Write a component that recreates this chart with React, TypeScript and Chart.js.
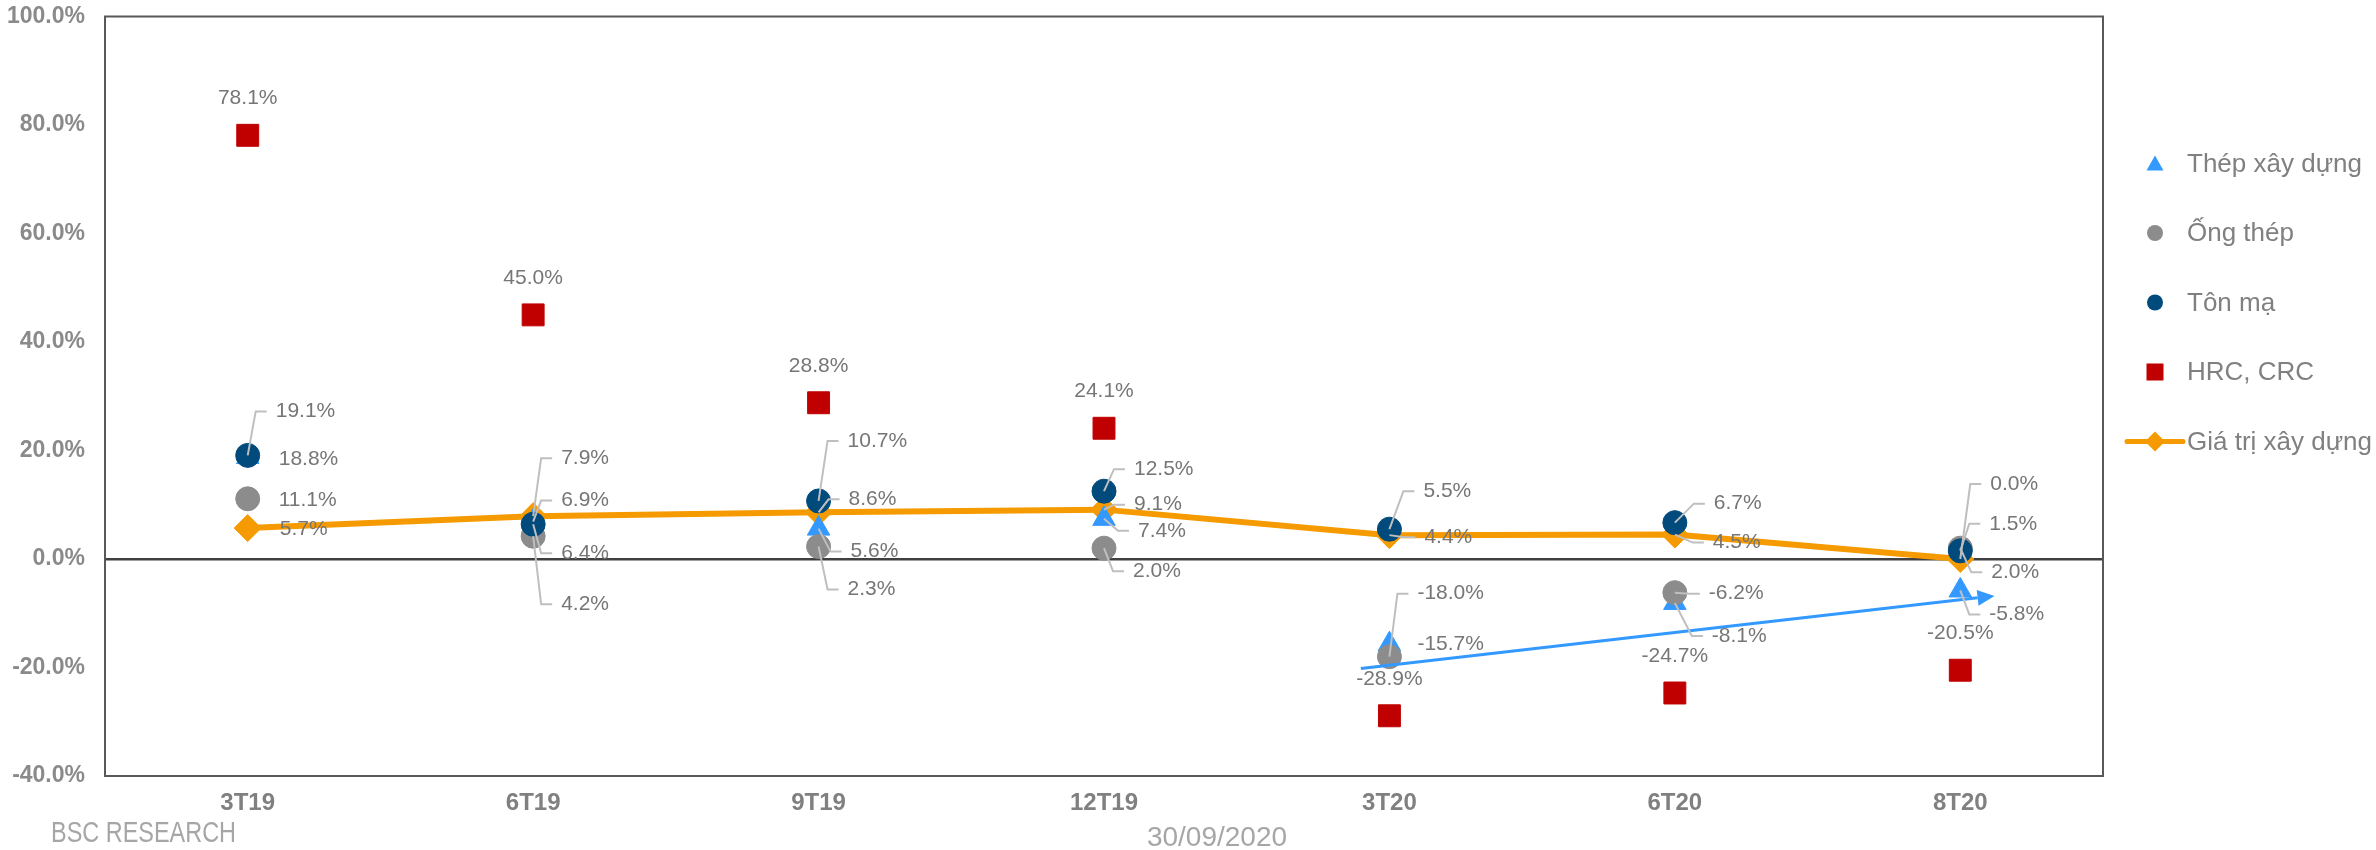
import React, { useEffect, useRef } from 'react';
import { Chart, registerables } from 'chart.js';

Chart.register(...registerables);

// ---------- DATA ----------
const categories = ['3T19', '6T19', '9T19', '12T19', '3T20', '6T20', '8T20'];
const thepXayDung = [18.8, 6.9, 5.6, 7.4, -15.7, -8.1, -5.8];
const ongThep = [11.1, 4.2, 2.3, 2.0, -18.0, -6.2, 2.0];
const tonMa = [19.1, 6.4, 10.7, 12.5, 5.5, 6.7, 1.5];
const hrcCrc = [78.1, 45.0, 28.8, 24.1, -28.9, -24.7, -20.5];
const giaTriXayDung = [5.7, 7.9, 8.6, 9.1, 4.4, 4.5, 0.0];
const yTickValues = [-40, -20, 0, 20, 40, 60, 80, 100];
// trend arrow (category index, value %)
const trendStart = [3.9, -20.2];
const trendEnd = [6.12, -6.8];
const sourceText = 'BSC RESEARCH';
const dateText = '30/09/2020';

// ---------- STYLE ----------
const FONT = "'Liberation Sans', Arial, sans-serif";
const C_BLUE = '#3399ff';
const C_GRAY = '#8c8c8c';
const C_NAVY = '#004a7c';
const C_RED = '#c00000';
const C_ORANGE = '#f59a00';
const C_LABEL = '#767676';
const C_LEADER = '#bfbfbf';

// label layout per series: dx, dy (px from marker), leader flag
const LABEL_LAYOUT: Record<string, { dx: number[]; dy: number[]; leader: number[]; above?: boolean }> = {
  'Thép xây dựng': { dx: [31, 28, 32, 34, 28, 37, 29], dy: [2, -21, 23, 12, 0, 33, 24], leader: [0, 1, 1, 1, 0, 1, 1] },
  'Ống thép': { dx: [31, 28, 29, 29, 28, 34, 31], dy: [1, 68, 43, 23, -63, 1, 24], leader: [0, 1, 1, 1, 1, 1, 1] },
  'Tôn mạ': { dx: [28, 28, 29, 30, 34, 39, 29], dy: [-44, 29, -60, -22, -38, -19, -27], leader: [1, 1, 1, 1, 1, 1, 1] },
  'HRC, CRC': { dx: [0, 0, 0, 0, 0, 0, 0], dy: [-37, -37, -37, -37, -37, -37, -37], leader: [0, 0, 0, 0, 0, 0, 0], above: true },
  'Giá trị xây dựng': { dx: [32, 28, 30, 30, 35, 38, 30], dy: [1, -58, -13, -5, 2, 8, -75], leader: [0, 1, 1, 1, 1, 1, 1] },
};

const LEGEND_ITEMS = [
  { label: 'Thép xây dựng', kind: 'triangle', color: C_BLUE },
  { label: 'Ống thép', kind: 'circle', color: C_GRAY },
  { label: 'Tôn mạ', kind: 'circle', color: C_NAVY },
  { label: 'HRC, CRC', kind: 'rect', color: C_RED },
  { label: 'Giá trị xây dựng', kind: 'line', color: C_ORANGE },
];

const framePlugin = {
  id: 'frame',
  beforeDatasetsDraw(chart: any) {
    const { ctx, chartArea: a } = chart;
    ctx.save();
    ctx.strokeStyle = '#595959';
    ctx.lineWidth = 2;
    ctx.strokeRect(a.left, a.top, a.right - a.left, a.bottom - a.top);
    ctx.restore();
  },
};

const labelPlugin = {
  id: 'labelsAndExtras',
  afterDatasetsDraw(chart: any) {
    const { ctx } = chart;
    const xs = chart.scales.x;
    const ys = chart.scales.y;

    // trend arrow
    const x0 = xs.getPixelForValue(trendStart[0]);
    const y0 = ys.getPixelForValue(trendStart[1]);
    const x1 = xs.getPixelForValue(trendEnd[0]);
    const y1 = ys.getPixelForValue(trendEnd[1]);
    const ang = Math.atan2(y1 - y0, x1 - x0);
    const headLen = 17;
    const headW = 8;
    const bx = x1 - Math.cos(ang) * headLen;
    const by = y1 - Math.sin(ang) * headLen;
    ctx.save();
    ctx.strokeStyle = C_BLUE;
    ctx.fillStyle = C_BLUE;
    ctx.lineWidth = 3;
    ctx.beginPath();
    ctx.moveTo(x0, y0);
    ctx.lineTo(bx, by);
    ctx.stroke();
    ctx.beginPath();
    ctx.moveTo(x1, y1);
    ctx.lineTo(bx + Math.sin(ang) * headW, by - Math.cos(ang) * headW);
    ctx.lineTo(bx - Math.sin(ang) * headW, by + Math.cos(ang) * headW);
    ctx.closePath();
    ctx.fill();
    ctx.restore();

    // leaders
    ctx.save();
    ctx.strokeStyle = C_LEADER;
    ctx.lineWidth = 2;
    chart.data.datasets.forEach((ds: any, di: number) => {
      const lay = LABEL_LAYOUT[ds.label];
      const meta = chart.getDatasetMeta(di);
      meta.data.forEach((pt: any, i: number) => {
        if (!lay.leader[i]) return;
        const tx = pt.x + lay.dx[i];
        const ty = pt.y + lay.dy[i];
        ctx.beginPath();
        ctx.moveTo(pt.x, pt.y);
        ctx.lineTo(tx - 20, ty);
        ctx.lineTo(tx - 9, ty);
        ctx.stroke();
      });
    });
    ctx.restore();

    // labels
    ctx.save();
    ctx.font = `21px ${FONT}`;
    ctx.fillStyle = C_LABEL;
    ctx.textBaseline = 'middle';
    chart.data.datasets.forEach((ds: any, di: number) => {
      const lay = LABEL_LAYOUT[ds.label];
      const meta = chart.getDatasetMeta(di);
      meta.data.forEach((pt: any, i: number) => {
        const v = ds.data[i] as number;
        const txt = v.toFixed(1) + '%';
        if (lay.above) {
          ctx.textAlign = 'center';
          ctx.fillText(txt, pt.x, pt.y + lay.dy[i]);
        } else {
          ctx.textAlign = 'left';
          ctx.fillText(txt, pt.x + lay.dx[i], pt.y + lay.dy[i]);
        }
      });
    });
    ctx.restore();
  },
  afterDraw(chart: any) {
    const { ctx, chartArea: a } = chart;
    // legend
    ctx.save();
    const mx = a.right + 52;
    const tx = a.right + 84;
    LEGEND_ITEMS.forEach((it, i) => {
      const y = a.top + 147 + i * 69.5;
      ctx.fillStyle = it.color;
      ctx.strokeStyle = it.color;
      if (it.kind === 'triangle') {
        ctx.beginPath();
        ctx.moveTo(mx, y - 8);
        ctx.lineTo(mx + 8.5, y + 7);
        ctx.lineTo(mx - 8.5, y + 7);
        ctx.closePath();
        ctx.fill();
      } else if (it.kind === 'circle') {
        ctx.beginPath();
        ctx.arc(mx, y, 8, 0, Math.PI * 2);
        ctx.fill();
      } else if (it.kind === 'rect') {
        ctx.fillRect(mx - 8.5, y - 8.5, 17, 17);
      } else {
        ctx.lineWidth = 5;
        ctx.lineCap = 'round';
        ctx.beginPath();
        ctx.moveTo(mx - 28, y);
        ctx.lineTo(mx + 28, y);
        ctx.stroke();
        ctx.beginPath();
        ctx.moveTo(mx, y - 10);
        ctx.lineTo(mx + 10, y);
        ctx.lineTo(mx, y + 10);
        ctx.lineTo(mx - 10, y);
        ctx.closePath();
        ctx.fill();
      }
      ctx.fillStyle = '#808080';
      ctx.font = `26px ${FONT}`;
      ctx.textAlign = 'left';
      ctx.textBaseline = 'middle';
      ctx.fillText(it.label, tx, y + 1);
    });

    // footer texts
    ctx.fillStyle = '#a6a6a6';
    ctx.font = `30px ${FONT}`;
    ctx.textBaseline = 'middle';
    ctx.textAlign = 'left';
    const w = ctx.measureText(sourceText).width;
    ctx.save();
    ctx.translate(51, 834);
    ctx.scale(185 / w, 1);
    ctx.fillText(sourceText, 0, 0);
    ctx.restore();
    ctx.font = `28px ${FONT}`;
    ctx.textAlign = 'center';
    ctx.fillText(dateText, 1217, 838);
    ctx.restore();
  },
};

export default function App() {
  const ref = useRef<HTMLCanvasElement>(null);
  useEffect(() => {
    document.body.style.margin = '0';
    const canvas = ref.current!;
    const chart = new Chart(canvas, {
      type: 'line',
      data: {
        labels: categories,
        datasets: [
          { label: 'Tôn mạ', data: tonMa, showLine: false, pointStyle: 'circle', pointRadius: 12, pointHoverRadius: 12, backgroundColor: C_NAVY, borderColor: C_NAVY, pointBorderWidth: 1, order: 0 },
          { label: 'Ống thép', data: ongThep, showLine: false, pointStyle: 'circle', pointRadius: 12, pointHoverRadius: 12, backgroundColor: C_GRAY, borderColor: C_GRAY, pointBorderWidth: 1, order: 1 },
          { label: 'Thép xây dựng', data: thepXayDung, showLine: false, pointStyle: 'triangle', pointRadius: 13, pointHoverRadius: 13, backgroundColor: C_BLUE, borderColor: C_BLUE, pointBorderWidth: 1, order: 2 },
          { label: 'HRC, CRC', data: hrcCrc, showLine: false, pointStyle: 'rect', pointRadius: 15.5, pointHoverRadius: 15.5, backgroundColor: C_RED, borderColor: C_RED, pointBorderWidth: 1, order: 3 },
          { label: 'Giá trị xây dựng', data: giaTriXayDung, showLine: true, borderWidth: 6, tension: 0, pointStyle: 'rectRot', pointRadius: 13.5, pointHoverRadius: 13.5, backgroundColor: C_ORANGE, borderColor: C_ORANGE, pointBorderWidth: 1, order: 4 },
        ] as any,
      },
      options: {
        responsive: false,
        animation: false,
        devicePixelRatio: 1,
        layout: { padding: { left: 0, right: 273, top: 12, bottom: 0 } },
        plugins: { legend: { display: false }, tooltip: { enabled: false } },
        scales: {
          x: {
            offset: true,
            grid: { display: false, drawTicks: false },
            border: { display: false },
            ticks: { color: '#808080', font: { family: FONT, size: 24, weight: 'bold', lineHeight: 1 }, padding: 15 },
            afterFit: (s: any) => { s.height = 74; s.paddingLeft = 0; s.paddingRight = 0; },
          },
          y: {
            min: -40,
            max: 100,
            afterBuildTicks: (s: any) => { s.ticks = yTickValues.map((v) => ({ value: v })); },
            grid: {
              drawTicks: false,
              color: (c: any) => (c.tick && c.tick.value === 0 ? '#404040' : 'rgba(0,0,0,0)'),
              lineWidth: (c: any) => (c.tick && c.tick.value === 0 ? 2.5 : 0),
            },
            border: { display: false },
            ticks: {
              color: '#8a8a8a',
              font: { family: FONT, size: 23, weight: 'bold', lineHeight: 1 },
              padding: 20,
              callback: (v: any) => Number(v).toFixed(1) + '%',
            },
            afterFit: (s: any) => { s.width = 105; s.paddingTop = 0; s.paddingBottom = 0; },
          },
        },
      } as any,
      plugins: [framePlugin, labelPlugin],
    });
    return () => chart.destroy();
  }, []);
  return (
    <div style={{ width: 2376, height: 850 }}>
      <canvas ref={ref} width={2376} height={850} style={{ width: 2376, height: 850, display: 'block' }} />
    </div>
  );
}
